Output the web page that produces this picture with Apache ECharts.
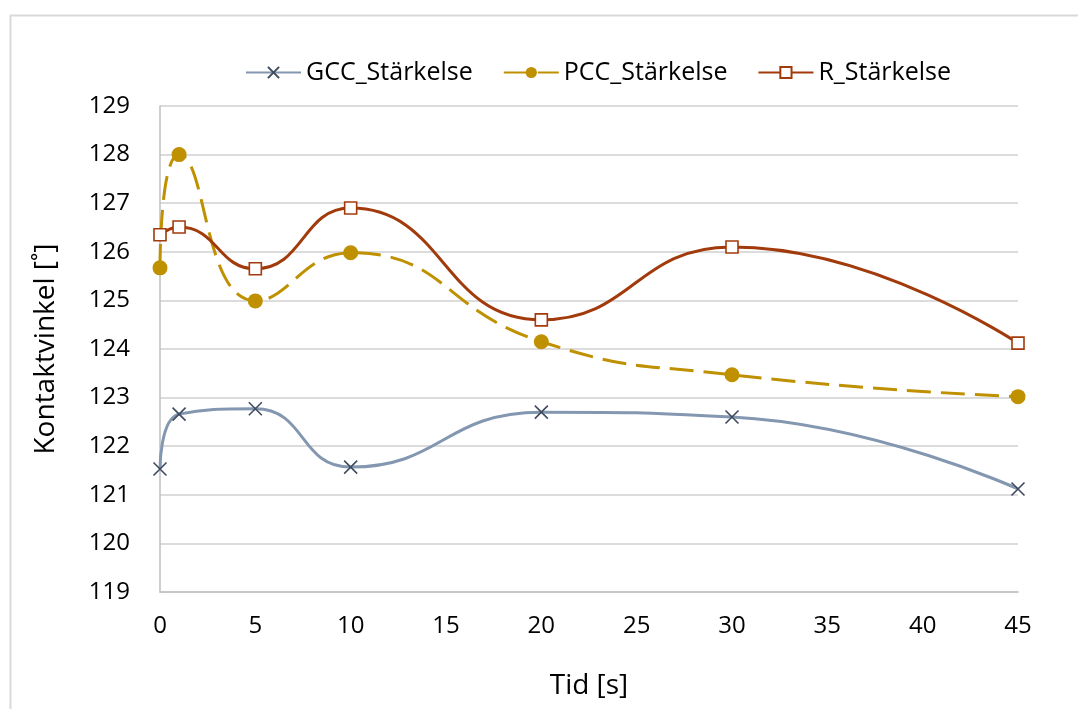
<!DOCTYPE html>
<html>
<head>
<meta charset="utf-8">
<script src="https://cdn.jsdelivr.net/npm/echarts@6/dist/echarts.min.js"></script>
<style>
html,body{margin:0;padding:0;background:#fff;}
#chart{width:1078px;height:709px;}
</style>
</head>
<body>
<div id="chart"></div>
<script>
const times = [0, 1, 5, 10, 20, 30, 45];
const gccValues = [121.53, 122.66, 122.77, 121.57, 122.70, 122.60, 121.12];
const pccValues = [125.67, 128.00, 124.99, 125.98, 124.15, 123.47, 123.02];
const rValues = [126.35, 126.51, 125.65, 126.90, 124.60, 126.10, 124.12];
const seriesNames = ['GCC_Stärkelse', 'PCC_Stärkelse', 'R_Stärkelse'];
const xTitle = 'Tid [s]';
const yTitle = 'Kontaktvinkel [˚]';

const FONT = 'Open Sans';
const pair = (vals) => times.map((t, i) => [t, vals[i]]);

const chart = echarts.init(document.getElementById('chart'), null, {renderer: 'canvas'});
chart.setOption({
  backgroundColor: '#ffffff',
  animation: false,
  textStyle: {fontFamily: FONT},
  graphic: [{
    type: 'rect', left: 8, top: 13,
    shape: {width: 1200, height: 800},
    style: {fill: 'none', stroke: '#D9D9D9', lineWidth: 2},
    silent: true
  }],
  legend: {
    left: 240, top: 55,
    itemWidth: 55, itemHeight: 14, itemGap: 30,
    textStyle: {fontFamily: FONT, fontSize: 25, color: '#000'},
    data: seriesNames
  },
  grid: {left: 160, right: 60, top: 106, bottom: 117, containLabel: false},
  xAxis: {
    type: 'value', min: 0, max: 45, interval: 5,
    name: xTitle, nameLocation: 'middle', nameGap: 80,
    nameTextStyle: {fontFamily: FONT, fontSize: 28, color: '#000'},
    axisLine: {show: true, lineStyle: {color: '#BFBFBF', width: 1.5}},
    axisTick: {show: false},
    splitLine: {show: false},
    axisLabel: {fontFamily: FONT, fontSize: 24, color: '#000', margin: 22}
  },
  yAxis: {
    type: 'value', min: 119, max: 129, interval: 1,
    name: yTitle, nameLocation: 'middle', nameGap: 100, nameRotate: 90,
    nameTextStyle: {fontFamily: FONT, fontSize: 28, color: '#000'},
    axisLine: {show: true, lineStyle: {color: '#BFBFBF', width: 1.5}},
    axisTick: {show: false},
    splitLine: {show: true, lineStyle: {color: '#D0D0D0', width: 1.5}},
    axisLabel: {fontFamily: FONT, fontSize: 24, color: '#000', margin: 30}
  },
  series: [
    {
      name: seriesNames[0], type: 'line', smooth: 0.5,
      data: pair(gccValues),
      symbol: 'path://M0,0L10,10M10,0L0,10', symbolSize: 13,
      itemStyle: {color: 'rgba(0,0,0,0)', borderColor: '#3F4B5E', borderWidth: 1.6},
      lineStyle: {color: '#8497B0', width: 3}
    },
    {
      name: seriesNames[1], type: 'line', smooth: 0.5,
      data: pair(pccValues),
      symbol: 'circle', symbolSize: 15,
      itemStyle: {color: '#BF9000', borderWidth: 0},
      lineStyle: {color: '#BF9000', width: 3, type: [24, 10]}
    },
    {
      name: seriesNames[2], type: 'line', smooth: 0.5,
      data: pair(rValues),
      symbol: 'rect', symbolSize: 12,
      itemStyle: {color: '#ffffff', borderColor: '#A23B0C', borderWidth: 1.6},
      lineStyle: {color: '#A23B0C', width: 3}
    }
  ]
});
</script>
</body>
</html>
